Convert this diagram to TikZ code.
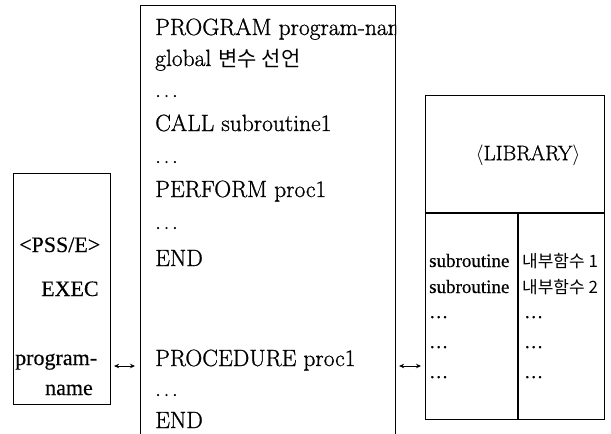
\documentclass[tikz,border=0pt]{standalone}
\usepackage{fontspec}
\newfontfamily\kr{Noto Sans CJK KR}
\newfontfamily\tms[FakeBold=0.4]{Liberation Serif}
\newfontfamily\lmr[FakeBold=0.9]{Latin Modern Roman}
\newcommand{\mydots}{.\kern2.5pt.\kern2.5pt.}
\usetikzlibrary{arrows.meta}
\begin{document}
\begin{tikzpicture}[x=1pt,y=-1pt,
  box/.style={draw, line width=1.1pt, inner sep=0pt, anchor=north west},
  mtxt/.style={inner sep=0pt, anchor=base west, font=\lmr\fontsize{23.5}{27}\selectfont},
  ltxt/.style={inner sep=0pt, anchor=base west, font=\tms\fontsize{22}{26}\selectfont},
  rtxt/.style={inner sep=0pt, anchor=base west, font=\tms\fontsize{19}{22}\selectfont},
  ktxt/.style={inner sep=0pt, anchor=base west, font=\kr\fontsize{17}{20}\selectfont},
  arr/.style={line width=0.9pt, {Stealth[length=5pt,width=4.5pt]}-{Stealth[length=5pt,width=4.5pt]}},
  sep/.style={line width=1.1pt}
]
\useasboundingbox (0,0) rectangle (611,434);
\clip (0,0) rectangle (611,434);

% left box
\node[box, minimum width=97pt, minimum height=231pt] (exec) at (13,173) {};
\node[ltxt] (t1) at (19,252) {<PSS/E>};
\node[ltxt] (t2) at (41,296) {EXEC};
\node[ltxt] (t3) at (15,365) {program-};
\node[ltxt] (t4) at (45,395) {name};

% middle box
\node[box, minimum width=255pt, minimum height=460pt] (prog) at (140,5) {};
\begin{scope}
\clip (prog.north west) rectangle (prog.south east);
\node[mtxt] (m1) at (155,35) {PROGRAM program-name};
\end{scope}
\node[mtxt] (m2) at (155,66) {global {\kr\fontsize{21}{25}\selectfont 변수 선언}};
\node[mtxt] (m3) at (155,97) {\mydots};
\node[mtxt] (m4) at (155,131) {CALL subroutine1};
\node[mtxt] (m5) at (155,163) {\mydots};
\node[mtxt] (m6) at (155,197) {PERFORM proc1};
\node[mtxt] (m7) at (155,229) {\mydots};
\node[mtxt] (m8) at (155,266) {END};
\node[mtxt] (m9) at (155,366) {PROCEDURE proc1};
\node[mtxt] (m10) at (155,396) {\mydots};
\node[mtxt] (m11) at (155,428) {END};

% right box
\node[box, minimum width=179pt, minimum height=324pt] (lib) at (425,95) {};
\coordinate (hs) at (425,213);
\coordinate (vs) at (518,213);
\draw[sep] (hs) -- (hs -| lib.east);
\draw[sep] (vs) -- (vs |- lib.south);
\node[inner sep=0pt, font=\lmr\fontsize{21}{24}\selectfont] (lt) at (528,155) {$\langle$LIBRARY$\rangle$};
\node[rtxt] (r1) at (429,267) {subroutine};
\node[rtxt] (r2) at (429,293) {subroutine};
\node[rtxt] (r3) at (429,318) {\dots};
\node[rtxt] (r4) at (429,348) {\dots};
\node[rtxt] (r5) at (429,378) {\dots};
\node[ktxt] (k1) at (522,267) {내부함수 1};
\node[ktxt] (k2) at (522,293) {내부함수 2};
\node[rtxt] (k3) at (524,318) {\dots};
\node[rtxt] (k4) at (524,348) {\dots};
\node[rtxt] (k5) at (524,378) {\dots};

% connectors
\coordinate (ay) at (0,366);
\draw[arr] ([xshift=3pt]exec.east |- ay) -- ([xshift=-5pt]prog.west |- ay);
\draw[arr] ([xshift=3pt]prog.east |- ay) -- ([xshift=-4pt]lib.west |- ay);
\end{tikzpicture}
\end{document}
